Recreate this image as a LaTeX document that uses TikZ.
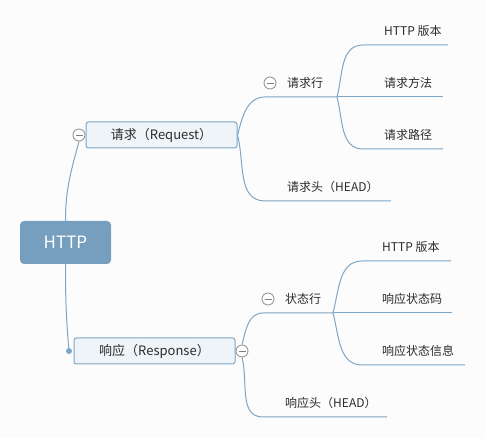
\documentclass[tikz,border=0pt]{standalone}
\usepackage{fontspec}
\newfontfamily\cjk{Noto Sans CJK SC}
\usetikzlibrary{positioning}
\definecolor{rootblue}{HTML}{769FBF}
\definecolor{linkblue}{HTML}{7DA6C6}
\definecolor{topicfill}{HTML}{EEF4F8}
\definecolor{txt}{HTML}{2B2B2B}
\definecolor{bg}{HTML}{FCFCFC}

\begin{document}
\begin{tikzpicture}[x=1pt,y=-1pt,
  every node/.style = {font=\cjk\fontsize{12}{14}\selectfont, text=txt, inner sep=0pt},
  root/.style = {fill=rootblue, rounded corners=4pt, minimum width=91pt,
    minimum height=43pt, text=white, font=\cjk\fontsize{17}{20}\selectfont},
  topic/.style = {draw=linkblue, line width=1pt, fill=topicfill, rounded corners=2.5pt,
    minimum height=26pt, font=\cjk\fontsize{13}{15}\selectfont},
  fold/.style = {circle, draw=gray!80, fill=white, line width=0.9pt, minimum size=12pt,
    path picture={\draw[gray,line width=0.9pt] ([xshift=-3.5pt]path picture bounding box.center)
      -- ([xshift=3.5pt]path picture bounding box.center);}},
  dotmark/.style = {circle, fill=linkblue, minimum size=6pt},
  leaf/.style = {anchor=west},
  link/.style = {draw=linkblue, line width=1pt}
  ]
  \fill[bg] (0,0) rectangle (485,438);

  % main topics
  \node[root] (http) at (65.5,242.5) {HTTP};
  \node[topic, minimum width=151pt] (req) at (161.5,135) {请求（Request）};
  \node[topic, minimum width=161pt] (resp) at (154.5,351) {响应（Response）};

  % labels
  \node[leaf] (rqline) at (287,83) {请求行};
  \node[leaf] (rqver) at (384,31) {HTTP 版本};
  \node[leaf] (rqmtd) at (384,83) {请求方法};
  \node[leaf] (rqpath) at (384,135) {请求路径};
  \node[leaf] (rqhead) at (287,187) {请求头（HEAD）};
  \node[leaf] (stline) at (285,299) {状态行};
  \node[leaf] (stver) at (382,247) {HTTP 版本};
  \node[leaf] (stcode) at (382,299) {响应状态码};
  \node[leaf] (stmsg) at (382,351) {响应状态信息};
  \node[leaf] (sthead) at (285,403) {响应头（HEAD）};

  % underline ends
  \coordinate (rqA) at (265,97);   \coordinate (rqB) at (337,97);
  \coordinate (verA) at (363,45);  \coordinate (verB) at (448,45);
  \coordinate (mtdB) at (443,97);
  \coordinate (pathA) at (363,149); \coordinate (pathB) at (443,149);
  \coordinate (hdA) at (265,201);  \coordinate (hdB) at (391,201);
  \coordinate (stA) at (263,313);  \coordinate (stB) at (333,313);
  \coordinate (sverA) at (362,261); \coordinate (sverB) at (451,261);
  \coordinate (codeB) at (452,313);
  \coordinate (msgA) at (362,365); \coordinate (msgB) at (465,365);
  \coordinate (shdA) at (263,417); \coordinate (shdB) at (387,417);

  \node[fold] (reqfold) at (79,135) {};
  \node[fold] (respfold) at (242,351) {};

  % connectors
  \draw[link] (http.north) to[out=90,in=-105] (reqfold.south);
  \draw[link] (http.south) to[out=-90,in=95] (69,351);
  \draw[link] (req.east) to[out=75,in=180] (rqA) -- (rqB);
  \draw[link] (req.east) to[out=-75,in=180] (hdA) -- (hdB);
  \draw[link] (rqB) to[out=75,in=180] (verA) -- (verB);
  \draw[link] (rqB) -- (mtdB);
  \draw[link] (rqB) to[out=-75,in=180] (pathA) -- (pathB);
  \draw[link] (respfold.north) to[out=75,in=180] (stA) -- (stB);
  \draw[link] (respfold.south) to[out=-75,in=180] (shdA) -- (shdB);
  \draw[link] (stB) to[out=75,in=180] (sverA) -- (sverB);
  \draw[link] (stB) -- (codeB);
  \draw[link] (stB) to[out=-75,in=180] (msgA) -- (msgB);

  \node[dotmark] (respdot) at (69,351) {};
  \node[fold] (lnfold) at (270,83) {};
  \node[fold] (stfold) at (268,299) {};
\end{tikzpicture}
\end{document}
